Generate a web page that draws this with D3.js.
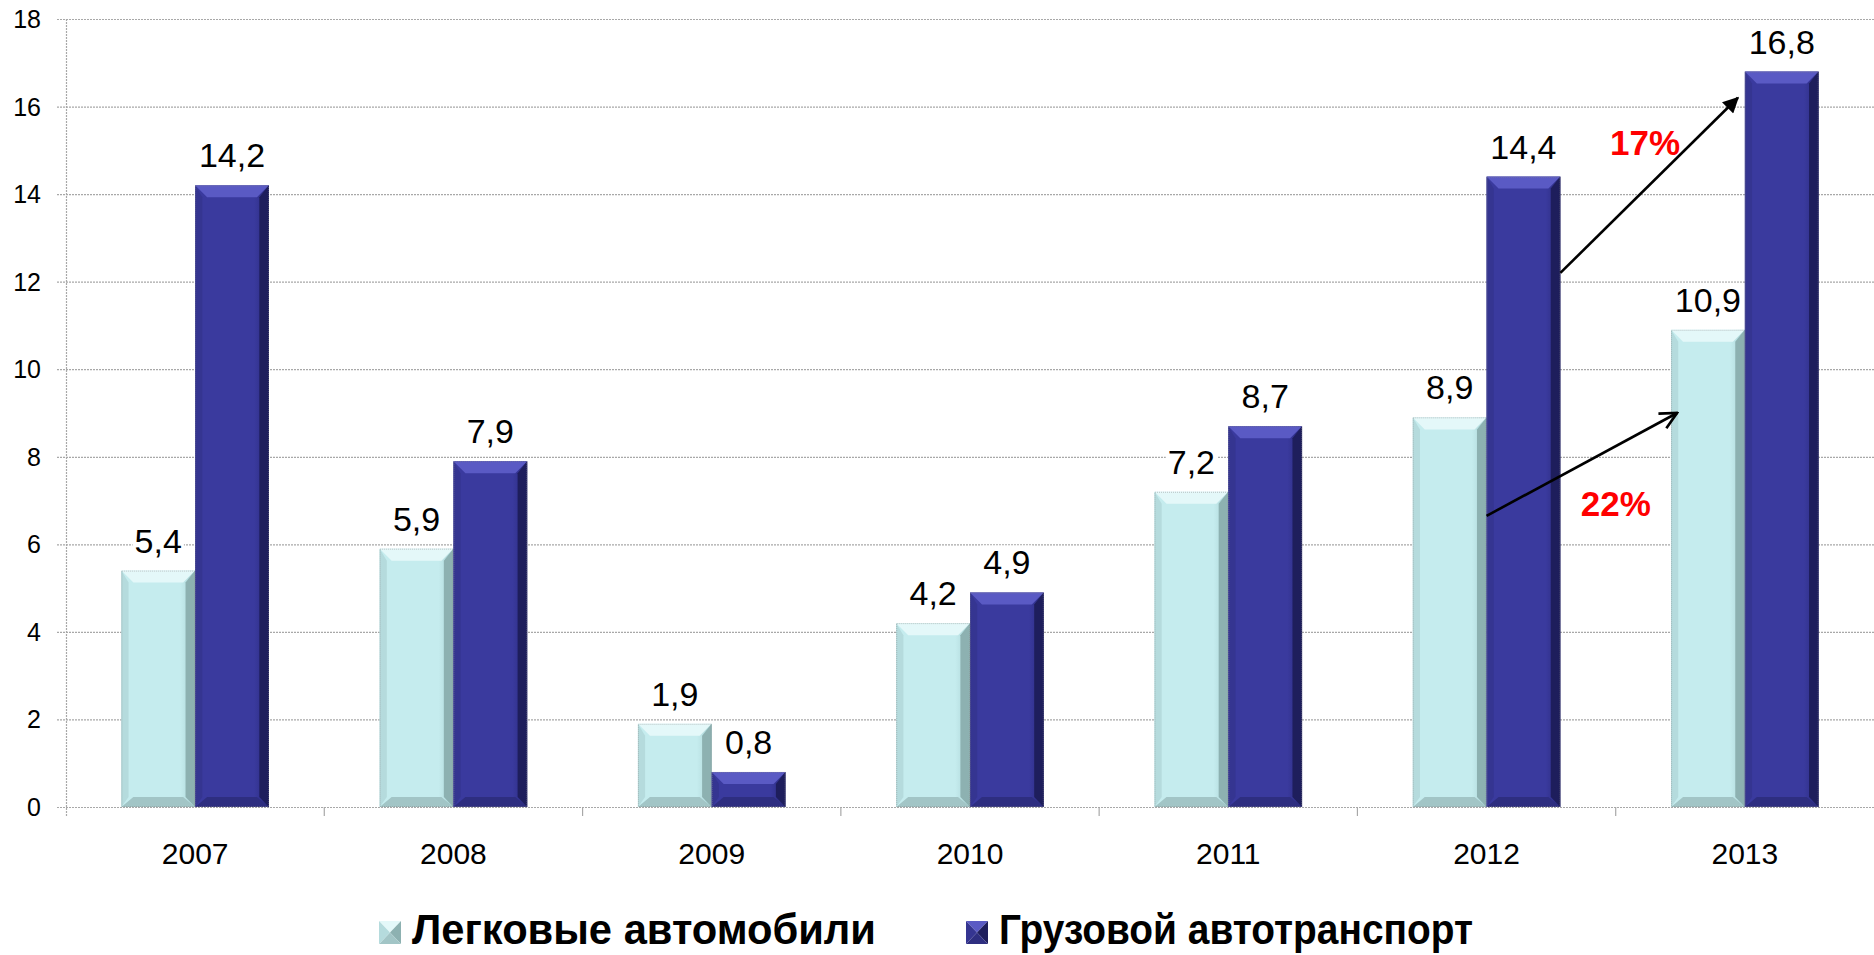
<!DOCTYPE html>
<html>
<head>
<meta charset="utf-8">
<script src="https://cdn.jsdelivr.net/npm/d3@7"></script>
<style>
  html, body { margin: 0; padding: 0; background: #fff; }
  svg { display: block; font-family: Arial, "Liberation Sans", sans-serif; }
</style>
</head>
<body>
<svg id="chart" width="1874" height="955"></svg>
<script>
// chart data
var years = ['2007', '2008', '2009', '2010', '2011', '2012', '2013'];
var seriesNames = ['Легковые автомобили', 'Грузовой автотранспорт'];
var cars = [5.4, 5.9, 1.9, 4.2, 7.2, 8.9, 10.9];
var trucks = [14.2, 7.9, 0.8, 4.9, 8.7, 14.4, 16.8];
var yTicks = [0, 2, 4, 6, 8, 10, 12, 14, 16, 18];

// growth arrows 2012 -> 2013
var growthLabels = ['17%', '22%'];
var growthSeries = [1, 0];
var growthFrom = [12.2, 6.65];
var growthTo = [16.2, 9.0];

var W = 1874, H = 955;
var plotLeft = 66, plotRight = 1874, plotTop = 19, plotBottom = 807;

var svg = d3.select('#chart');

// palettes for the bevelled bars
var pal = [
  { face: '#c5ecee', faceDark: '#a9d2d4', top: '#e4f8f9', left: '#b5dbdd', right: '#8db1b1', bottom: '#a2c5c6' },
  { face: '#3a3a9e', faceDark: '#2a2a7c', top: '#5a5ac4', left: '#353591', right: '#1e1e5c', bottom: '#2e2e80' }
];

var defs = svg.append('defs');
pal.forEach(function(p, i) {
  var g = defs.append('linearGradient').attr('id', 'face' + i)
    .attr('x1', '0').attr('x2', '1').attr('y1', '0').attr('y2', '0');
  g.append('stop').attr('offset', '0').attr('stop-color', p.face);
  g.append('stop').attr('offset', '0.8').attr('stop-color', p.face);
  g.append('stop').attr('offset', '1').attr('stop-color', p.faceDark);
});

defs.append('marker').attr('id', 'headFilled')
  .attr('viewBox', '0 0 10 10').attr('refX', 9).attr('refY', 5)
  .attr('markerUnits', 'userSpaceOnUse').attr('markerWidth', 18).attr('markerHeight', 16)
  .attr('orient', 'auto')
  .append('path').attr('d', 'M0,0 L10,5 L0,10 z').attr('fill', '#000');

defs.append('marker').attr('id', 'headOpen')
  .attr('viewBox', '0 0 12 12').attr('refX', 11).attr('refY', 6)
  .attr('markerUnits', 'userSpaceOnUse').attr('markerWidth', 20).attr('markerHeight', 20)
  .attr('orient', 'auto')
  .append('path').attr('d', 'M1,1 L11,6 L1,11').attr('fill', 'none')
  .attr('stroke', '#000').attr('stroke-width', 1.6);

var gap = 0.4286;
var x0 = d3.scaleBand().domain(years).range([plotLeft, plotRight])
  .paddingInner(gap).paddingOuter(gap / 2);
var x1 = d3.scaleBand().domain([0, 1]).range([0, x0.bandwidth()]);
var y = d3.scaleLinear().domain([0, 18]).range([plotBottom, plotTop]);

var gridColor = '#a8a8a8';

// gridlines
svg.append('g').selectAll('line').data(yTicks).enter().append('line')
  .attr('x1', plotLeft - 9).attr('x2', plotRight)
  .attr('y1', function(d) { return y(d) + 0.5; })
  .attr('y2', function(d) { return y(d) + 0.5; })
  .attr('stroke', gridColor).attr('stroke-width', 1.2)
  .attr('stroke-dasharray', '2,1');

// y axis line
svg.append('line')
  .attr('x1', plotLeft + 0.5).attr('x2', plotLeft + 0.5)
  .attr('y1', plotTop).attr('y2', plotBottom + 9)
  .attr('stroke', gridColor).attr('stroke-width', 1.2).attr('stroke-dasharray', '2,1');

// category tick marks
var step = x0.step();
svg.append('g').selectAll('line').data(years.slice(1)).enter().append('line')
  .attr('x1', function(d) { return x0(d) - step * gap / 2; })
  .attr('x2', function(d) { return x0(d) - step * gap / 2; })
  .attr('y1', plotBottom).attr('y2', plotBottom + 9)
  .attr('stroke', gridColor).attr('stroke-width', 1.2);

// y tick labels
svg.append('g').selectAll('text').data(yTicks).enter().append('text')
  .attr('x', 41).attr('y', function(d) { return y(d); })
  .attr('dy', '0.36em').attr('text-anchor', 'end')
  .attr('font-size', 25).attr('fill', '#000')
  .text(function(d) { return d; });

// category labels
svg.append('g').selectAll('text').data(years).enter().append('text')
  .attr('x', function(d) { return x0(d) + x0.bandwidth() / 2; })
  .attr('y', 864).attr('text-anchor', 'middle')
  .attr('font-size', 30).attr('fill', '#000')
  .text(function(d) { return d; });

// flatten data for bars
var barData = [];
years.forEach(function(yr, i) {
  barData.push({ year: yr, s: 0, v: cars[i] });
  barData.push({ year: yr, s: 1, v: trucks[i] });
});

function pts(a) { return a.map(function(p) { return p.join(','); }).join(' '); }

var bars = svg.append('g').selectAll('g').data(barData).enter().append('g');
bars.each(function(d) {
  var g = d3.select(this);
  var p = pal[d.s];
  var bx = x0(d.year) + x1(d.s), bw = x1.bandwidth();
  var yt = y(d.v), yb = y(0);
  var s = 12, bt = 12, bb = 10;
  g.append('rect').attr('x', bx).attr('y', yt).attr('width', bw).attr('height', yb - yt)
    .attr('fill', 'url(#face' + d.s + ')');
  g.append('polygon').attr('points', pts([[bx, yt], [bx + bw, yt], [bx + bw - s, yt + bt], [bx + s, yt + bt]]))
    .attr('fill', p.top);
  g.append('polygon').attr('points', pts([[bx, yb], [bx + bw, yb], [bx + bw - s, yb - bb], [bx + s, yb - bb]]))
    .attr('fill', p.bottom);
  g.append('polygon').attr('points', pts([[bx, yt], [bx + s * 0.6, yt + bt], [bx + s * 0.6, yb - bb], [bx, yb]]))
    .attr('fill', p.left);
  g.append('polygon').attr('points', pts([[bx + bw, yt], [bx + bw - s * 0.8, yt + bt], [bx + bw - s * 0.8, yb - bb], [bx + bw, yb]]))
    .attr('fill', p.right);
  g.append('rect').attr('x', bx + 0.5).attr('y', yt + 0.5).attr('width', bw - 1).attr('height', yb - yt - 1)
    .attr('fill', 'none').attr('stroke', '#8a8a8a').attr('stroke-width', 0.8)
    .attr('stroke-dasharray', '1,1').attr('opacity', 0.6);
});

// value labels with white background
var labels = svg.append('g').selectAll('g').data(barData).enter().append('g');
labels.each(function(d) {
  var g = d3.select(this);
  var cx = x0(d.year) + x1(d.s) + x1.bandwidth() / 2;
  var t = g.append('text').attr('x', cx).attr('y', y(d.v) - 18)
    .attr('text-anchor', 'middle').attr('font-size', 34).attr('fill', '#000')
    .text(String(d.v).replace('.', ','));
  var bb = t.node().getBBox();
  g.insert('rect', 'text').attr('x', bb.x - 2).attr('y', bb.y + 2)
    .attr('width', bb.width + 4).attr('height', bb.height - 2).attr('fill', '#fff');
});

// growth arrows
var xA = x0('2012'), xB = x0('2013');
var bw = x1.bandwidth();
var arrowHeads = ['url(#headFilled)', 'url(#headOpen)'];
var arrowToOffset = [-7, 6];
var labelOffset = [[-4, -30], [34, 52]];
growthLabels.forEach(function(txt, i) {
  var s = growthSeries[i];
  var xs = xA + x1(s) + bw;
  var ys = y(growthFrom[i]);
  var xe = xB + x1(s) + arrowToOffset[i];
  var ye = y(growthTo[i]);
  svg.append('line').attr('x1', xs).attr('y1', ys).attr('x2', xe).attr('y2', ye)
    .attr('stroke', '#000').attr('stroke-width', 2.6)
    .attr('marker-end', arrowHeads[i]);
  svg.append('text')
    .attr('x', (xs + xe) / 2 + labelOffset[i][0])
    .attr('y', (ys + ye) / 2 + labelOffset[i][1])
    .attr('text-anchor', 'middle').attr('font-size', 35).attr('font-weight', 'bold')
    .attr('fill', '#ff0000').text(txt);
});

// legend
var legX = [379, 966];
var legLen = [464, 474];
var legend = svg.append('g');
seriesNames.forEach(function(name, i) {
  var p = pal[i];
  var lx = legX[i], ly = 921, sw = 22, sh = 23;
  var c = [lx + sw / 2, ly + sh / 2];
  var k = [[lx, ly], [lx + sw, ly], [lx + sw, ly + sh], [lx, ly + sh]];
  legend.append('polygon').attr('points', pts([k[0], k[1], c])).attr('fill', p.top);
  legend.append('polygon').attr('points', pts([k[1], k[2], c])).attr('fill', p.right);
  legend.append('polygon').attr('points', pts([k[2], k[3], c])).attr('fill', p.bottom);
  legend.append('polygon').attr('points', pts([k[3], k[0], c])).attr('fill', p.left);
  legend.append('text').attr('x', lx + sw + 11).attr('y', 944)
    .attr('font-size', 43).attr('font-weight', 'bold').attr('fill', '#000')
    .attr('textLength', legLen[i]).attr('lengthAdjust', 'spacingAndGlyphs')
    .text(name);
});
</script>
</body>
</html>
